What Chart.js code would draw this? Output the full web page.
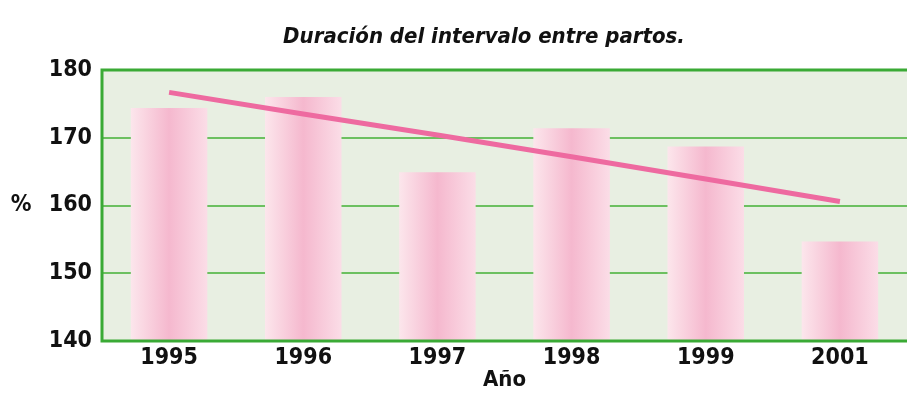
<!DOCTYPE html>
<html>
<head>
    <title>Duración del intervalo entre partos</title>
    <script src="https://cdn.jsdelivr.net/npm/chart.js"></script>
    <style>
        html, body {margin: 0; padding: 0; background: #fff;}
        #wrap {width: 907px; height: 411px; position: relative;}
    </style>
</head>
<body>
    <div id="wrap">
        <canvas id="myChart"></canvas>
    </div>
    <script>
        // data
        var years = ['1995', '1996', '1997', '1998', '1999', '2001'];
        var duracion = [174.4, 176.0, 164.9, 171.4, 168.7, 154.7];
        var tendencia = [176.7, 173.5, 170.4, 167.2, 163.9, 160.6];
        var yTicks = [140, 150, 160, 170, 180];

        var fontFam = '"Liberation Sans Narrow", "DejaVu Sans Condensed", "Liberation Sans", sans-serif';
        var barPct = 0.57;

        // pink bar with a soft horizontal gradient
        function barFill(ctx) {
            var chart = ctx.chart;
            var area = chart.chartArea;
            if (!area || !chart.scales.x) return '#f7c8d8';
            var cx = chart.scales.x.getPixelForValue(ctx.dataIndex);
            var half = (area.right - area.left) / years.length * barPct / 2;
            var g = chart.ctx.createLinearGradient(cx - half, 0, cx + half, 0);
            g.addColorStop(0, '#fce6ec');
            g.addColorStop(0.5, '#f5b8ce');
            g.addColorStop(1, '#fbdde7');
            return g;
        }

        var frame = {
            id: 'frame',
            beforeDraw: function(chart) {
                var a = chart.chartArea, c = chart.ctx;
                c.save();
                c.fillStyle = '#e8efe2';
                c.fillRect(a.left, a.top, a.right - a.left, a.bottom - a.top);
                c.restore();
            },
            afterDatasetsDraw: function(chart) {
                var a = chart.chartArea, c = chart.ctx;
                c.save();
                c.strokeStyle = '#3aaa35';
                c.lineWidth = 3;
                c.beginPath();
                c.moveTo(a.right + 5, a.top);
                c.lineTo(a.left, a.top);
                c.lineTo(a.left, a.bottom);
                c.lineTo(a.right + 5, a.bottom);
                c.stroke();
                c.fillStyle = '#111';
                c.textAlign = 'center';
                c.textBaseline = 'middle';
                // horizontal "%" label
                c.font = 'bold 23px ' + fontFam;
                c.fillText('%', 21, chart.scales.y.getPixelForValue(160));
                // title, centred a bit right of the canvas middle like the original
                c.font = 'italic bold 22px ' + fontFam;
                c.fillText('Duración del intervalo entre partos.', 484, 37);
                c.restore();
            }
        };

        var ctx = document.getElementById('myChart').getContext('2d');
        new Chart(ctx, {
            type: 'bar',
            data: {
                labels: years,
                datasets: [{
                    type: 'line',
                    data: tendencia,
                    borderColor: '#ee6aa0',
                    borderWidth: 5,
                    pointRadius: 0,
                    fill: false,
                    order: 0
                }, {
                    data: duracion,
                    backgroundColor: barFill,
                    barPercentage: barPct,
                    categoryPercentage: 1,
                    order: 1
                }]
            },
            plugins: [frame],
            options: {
                responsive: true,
                maintainAspectRatio: false,
                animation: false,
                layout: {padding: {left: 0, right: 0, top: 70, bottom: 20}},
                plugins: {
                    legend: {display: false},
                    tooltip: {enabled: false},
                    title: {display: false}
                },
                scales: {
                    y: {
                        min: 140,
                        max: 180,
                        afterBuildTicks: function(axis) {
                            axis.ticks = yTicks.map(function(v) { return {value: v}; });
                        },
                        afterFit: function(axis) { axis.width = 102; },
                        border: {display: false},
                        grid: {color: '#6cc060', lineWidth: 2, drawTicks: false},
                        ticks: {
                            color: '#111',
                            padding: 10,
                            font: {family: fontFam, size: 23, weight: 'bold'}
                        }
                    },
                    x: {
                        border: {display: false},
                        grid: {display: false},
                        ticks: {
                            color: '#111',
                            padding: -2,
                            font: {family: fontFam, size: 23, weight: 'bold', lineHeight: 1}
                        },
                        title: {
                            display: true,
                            text: 'Año',
                            color: '#111',
                            padding: {top: 1, bottom: 0},
                            font: {family: fontFam, size: 22, weight: 'bold', lineHeight: 1}
                        }
                    }
                }
            }
        });
    </script>
</body>
</html>
